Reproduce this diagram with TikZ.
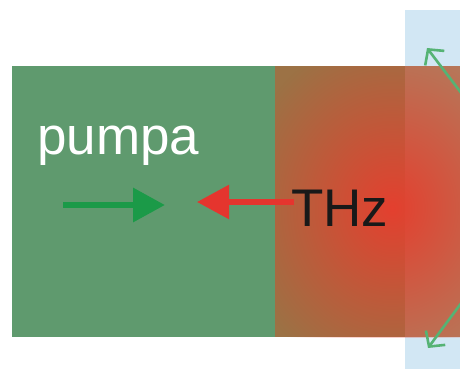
\documentclass[tikz,border=0pt]{standalone}
\usepackage{fontspec}
\setmainfont{Liberation Sans}
\usetikzlibrary{arrows.meta,fadings}
\definecolor{pumpgreen}{HTML}{5F9A6E}
\definecolor{crystal}{HTML}{9C7245}
\definecolor{crystallight}{HTML}{B27D5E}
\definecolor{panelblue}{HTML}{D2E7F4}
\definecolor{arrowgreen}{HTML}{1B9A48}
\definecolor{arrowred}{HTML}{E5352E}
\definecolor{glowred}{HTML}{E4402F}
\definecolor{axisgreen}{HTML}{55B374}
\tikzfading[name=glowfade, inner color=transparent!0, outer color=transparent!100]
\tikzset{
  beam/.style={line width=6.5pt, -{Triangle[length=32pt,width=33pt]}},
  axis/.style={draw=axisgreen, line width=2.6pt, -{Straight Barb[length=11pt,width=24pt]}},
  label/.style={inner sep=0pt, font=\fontsize{53}{60}\selectfont}
}
\begin{document}
\begin{tikzpicture}[x=1pt,y=-1pt]
  \useasboundingbox (0,0) rectangle (460,369);
  % background panel of the detector
  \fill[panelblue] (405,10) rectangle (460,369);
  % pump region and crystal
  \fill[pumpgreen] (12,66) rectangle (275,337);
  \fill[crystal] (275,66) rectangle (405,337);
  \fill[crystallight] (405,66) rectangle (460,337);
  % THz glow inside the crystal
  \begin{scope}
    \clip (275,66) rectangle (460,337);
    \fill[glowred, path fading=glowfade] (392,208) ellipse [x radius=155, y radius=175];
  \end{scope}
  % optical axes of the detector
  \coordinate (ua) at (462,94);
  \coordinate (ub) at (427,48);
  \coordinate (da) at (462,302);
  \coordinate (db) at (428,348);
  \draw[axis] (ua) -- (ub);
  \draw[axis] (da) -- (db);
  % beams
  \coordinate (ps) at (63,205);
  \coordinate (pe) at (165,205);
  \coordinate (ts) at (294,202);
  \coordinate (te) at (197,202);
  \draw[beam, arrowgreen] (ps) -- (pe);
  \draw[beam, arrowred, line width=5.5pt] (ts) -- (te);
  % labels
  \node[label, text=white, anchor=base west] (pump) at (37,154) {pumpa};
  \node[label, text=black!90, anchor=base west] (thz) at (291,226) {THz};
\end{tikzpicture}
\end{document}
